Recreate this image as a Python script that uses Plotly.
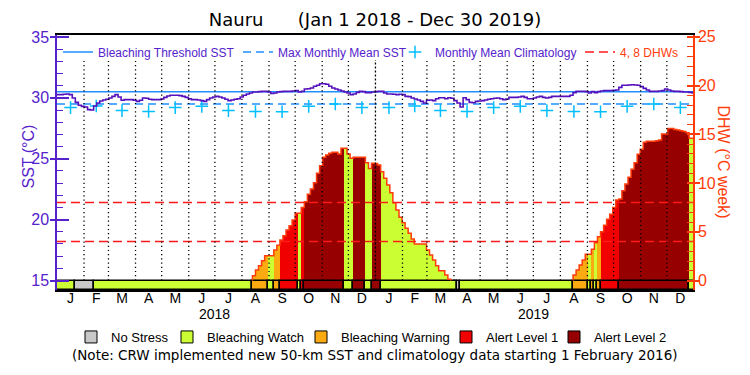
import pandas as pd
import plotly.graph_objects as go

# ---------------- data ----------------
title_text = "Nauru\u00a0\u00a0\u00a0\u00a0\u00a0\u00a0(Jan 1 2018 - Dec 30 2019)"
start_date = "2018-01-01"
end_date = "2019-12-31"
step_hours = 84  # twice-weekly composites

# twice-weekly SST (deg C), starting Jan 1 2018
sst = [30.26, 30.26, 30.29, 30.32, 30.26, 29.99, 29.63, 29.39, 29.30, 29.25,
       29.03, 29.00, 29.33, 29.58, 29.74, 29.82, 29.88, 29.99, 30.12, 30.26,
       30.07, 29.80, 29.85, 29.85, 29.85, 29.80, 29.71, 29.80, 29.99, 29.96,
       29.88, 29.85, 29.85, 29.85, 29.91, 30.04, 30.15, 30.21, 30.21, 30.21,
       30.18, 30.12, 30.04, 29.93, 29.85, 29.85, 29.82, 29.77, 29.71, 29.85,
       29.99, 30.07, 30.12, 30.07, 29.99, 29.88, 29.77, 29.82, 29.88, 29.93,
       30.07, 30.21, 30.32, 30.40, 30.48, 30.48, 30.51, 30.53, 30.53, 30.48,
       30.37, 30.40, 30.48, 30.51, 30.53, 30.53, 30.53, 30.56, 30.59, 30.48,
       30.53, 30.73, 30.75, 30.81, 30.95, 31.03, 31.16, 31.16, 31.11, 30.95,
       30.81, 30.73, 30.64, 30.56, 30.48, 30.40, 30.26, 30.32, 30.45, 30.53,
       30.51, 30.43, 30.43, 30.48, 30.51, 30.53, 30.53, 30.40, 30.32, 30.32,
       30.29, 30.26, 30.29, 30.26, 30.12, 30.10, 29.99, 29.91, 29.82, 29.71,
       29.58, 29.80, 29.82, 29.77, 29.93, 30.01, 30.01, 29.93, 30.01, 29.96,
       29.77, 29.58, 29.25, 30.01, 29.85, 29.63, 29.60, 29.71, 29.74, 29.77,
       29.82, 29.88, 29.93, 29.96, 29.99, 29.93, 29.85, 29.91, 30.04, 30.04,
       30.04, 30.07, 30.12, 30.04, 29.93, 29.93, 29.99, 30.07, 30.12, 30.04,
       29.99, 30.04, 30.12, 30.12, 30.12, 30.12, 30.12, 30.12, 30.21, 30.43,
       30.53, 30.53, 30.53, 30.51, 30.40, 30.51, 30.43, 30.51, 30.56, 30.59,
       30.59, 30.59, 30.62, 30.64, 30.86, 31.03, 31.03, 31.05, 31.08, 31.05,
       31.03, 30.92, 30.78, 30.64, 30.53, 30.53, 30.53, 30.56, 30.59, 30.73,
       30.64, 30.56, 30.53, 30.53, 30.51, 30.48, 30.48, 30.45, 30.34]

# monthly mean climatology (Jan..Dec)
month_letters = ["J", "F", "M", "A", "M", "J", "J", "A", "S", "O", "N", "D"]
clim_sst = [29.20, 29.33, 28.95, 28.88, 29.20, 29.30, 28.95, 28.88, 28.86, 29.30, 29.50, 29.20]
years = [2018, 2019]

# degree heating weeks during the two events
dhw_2018_start = "2018-08-13 00:00"
dhw_2018 = [0.50, 1.08, 1.52, 2.03, 2.55, 2.55, 2.55, 3.13, 3.61, 4.15,
            4.60, 5.18, 5.62, 6.20, 6.89, 6.89, 7.50, 8.08, 8.84, 9.38,
            10.03, 11.00, 11.78, 12.63, 12.87, 13.04, 13.15, 13.15, 12.97, 13.56,
            13.56, 12.97, 12.53, 12.63, 12.63, 12.63, 12.63, 12.08, 11.50, 12.02,
            12.00, 11.85, 11.16, 10.48, 9.79, 9.00, 7.98, 7.23, 6.48, 5.93,
            5.35, 4.84, 4.26, 3.74, 3.74, 3.74, 3.74, 3.13, 2.62, 2.10,
            1.52, 1.00, 1.00, 0.56, 0.12]
dhw_2019_start = "2019-08-15 12:00"
dhw_2019 = [0.56, 1.08, 1.59, 2.10, 2.68, 2.68, 3.20, 3.88, 4.50, 5.01,
            5.66, 6.27, 6.79, 7.50, 8.26, 8.36, 9.21, 9.90, 10.58, 11.40,
            12.09, 12.94, 13.45, 14.17, 14.27, 14.27, 14.27, 14.34, 14.41, 15.03,
            15.03, 15.60, 15.60, 15.50, 15.44, 15.37, 15.27, 15.16, 14.58, 14.58]
dhw_levels = [4, 8]

# stress level (0..4) as runs of twice-weekly periods
stress_names = ["No Stress", "Bleaching Watch", "Bleaching Warning", "Alert Level 1", "Alert Level 2"]
stress_colors = ["#C8C8C8", "#CCFF33", "#FBAA12", "#F00000", "#960000"]
stress_run_levels = [1, 0, 1, 2, 1, 2, 3, 1, 3, 4, 1, 4, 1, 4, 1, 0, 1, 2, 1, 2, 1, 2, 3, 4, 1]
stress_run_lengths = [6, 6, 52, 5, 2, 2, 6, 1, 1, 13, 3, 4, 2, 3, 25, 1, 37, 5, 1, 1, 1, 1, 6, 23, 2]

note_text = "(Note: CRW implemented new 50-km SST and climatology data starting 1 February 2016)"

# ---------------- styling ----------------
FONT = "Liberation Sans"
WIDE_FONT = "DejaVu Sans"
PURPLE = "#5522CC"
SST_LINE = "#5511BB"
ORANGE = "#FF3C0A"
BLUE = "#1E90FF"
CYAN = "#00BFFF"
RED = "#FF1A1A"
SST_RANGE = [14.22, 35.16]
DHW_RANGE = [-0.974, 25.18]
ML, MR, MT, MB = 57, 57, 35, 85
W, H = 750, 375
PW = W - ML - MR
PH = H - MT - MB


def px_x(p):  # pixel -> paper x
    return (p - ML) / PW


def px_y(p):  # pixel -> paper y
    return (H - MB - p) / PH


# ---------------- derived ----------------
n = len(sst)
t0 = pd.Timestamp(start_date)
step = pd.Timedelta(hours=step_hours)
width_ms = step / pd.Timedelta(milliseconds=1)


def ts(t):
    return pd.Timestamp(t).strftime("%Y-%m-%d %H:%M:%S")


times = [t0 + i * step for i in range(n)]
centers = [t + step / 2 for t in times]

dhw = [0.0] * n
events = [(dhw_2018_start, dhw_2018), (dhw_2019_start, dhw_2019)]
for start, vals in events:
    i0 = int(round((pd.Timestamp(start) - t0) / step))
    for k, v in enumerate(vals):
        if i0 + k < n:
            dhw[i0 + k] = v

levels = []
for lv, cnt in zip(stress_run_levels, stress_run_lengths):
    levels += [lv] * cnt

mmm = max(clim_sst)
threshold = mmm + 1.0

fig = go.Figure()

# SST reference lines
fig.add_trace(go.Scatter(x=[start_date, end_date], y=[threshold, threshold], mode="lines",
                         line=dict(color=BLUE, width=1.5), name="Bleaching Threshold SST",
                         legend="legend", yaxis="y"))
fig.add_trace(go.Scatter(x=[start_date, end_date], y=[mmm, mmm], mode="lines",
                         line=dict(color=BLUE, width=1.5, dash="8px,5px"), name="Max Monthly Mean SST",
                         legend="legend3", yaxis="y"))
clim_x, clim_y = [], []
for yr in years:
    for m in range(12):
        ms = pd.Timestamp(year=yr, month=m + 1, day=1)
        clim_x.append(ts(ms + pd.Timedelta(days=ms.days_in_month / 2)))
        clim_y.append(clim_sst[m])
fig.add_trace(go.Scatter(x=clim_x, y=clim_y, mode="markers",
                         marker=dict(symbol="cross-thin", size=9, line=dict(color=CYAN, width=1.5)),
                         name="Monthly Mean Climatology", legend="legend4", yaxis="y"))
fig.add_trace(go.Scatter(x=[ts(t) for t in times], y=sst, mode="lines", line_shape="hv",
                         line=dict(color=SST_LINE, width=1.6), showlegend=False, yaxis="y"))

# DHW bars coloured by stress level
fig.add_trace(go.Bar(x=[ts(c) for c in centers], y=dhw, width=width_ms,
                     marker=dict(color=[stress_colors[l] for l in levels], line_width=0),
                     showlegend=False, yaxis="y2"))
# DHW outlines
for start, vals in events:
    s = pd.Timestamp(start)
    xs = [ts(s)] + [ts(s + k * step) for k in range(len(vals) + 1)]
    ys = [0] + list(vals) + [0]
    fig.add_trace(go.Scatter(x=xs, y=ys, mode="lines", line_shape="hv",
                             line=dict(color=ORANGE, width=1.5), showlegend=False, yaxis="y2"))

# DHW 4 and 8 lines
lx, ly = [], []
for lv in dhw_levels:
    lx += [start_date, end_date, None]
    ly += [lv, lv, None]
fig.add_trace(go.Scatter(x=lx, y=ly, mode="lines", line=dict(color=RED, width=1.5, dash="9px,5px"),
                         name='<span style="color:%s">4, 8 DHWs</span>' % ORANGE, legend="legend5",
                         yaxis="y2"))

# stress bar along the bottom
sb_x, sb_w, sb_c = [], [], []
idx = 0
for lv, cnt in zip(stress_run_levels, stress_run_lengths):
    sb_x.append(ts(t0 + step * (idx + cnt / 2)))
    sb_w.append(width_ms * cnt)
    sb_c.append(stress_colors[lv])
    idx += cnt
fig.add_trace(go.Bar(x=sb_x, y=[0 - DHW_RANGE[0]] * len(sb_x), base=DHW_RANGE[0], width=sb_w,
                     marker=dict(color=sb_c, line=dict(color="black", width=1.5)),
                     showlegend=False, yaxis="y2"))

# legend entries for stress levels (one legend each, placed along the bottom)
stress_legend_px = [71, 167, 301, 446, 554]
for k, (name, col) in enumerate(zip(stress_names, stress_colors)):
    fig.add_trace(go.Bar(x=[None], y=[None], name=name, legend="legend%d" % (6 + k),
                         marker=dict(color=col, line=dict(color="black", width=1))))

# invisible traces so the outer-tick axes draw
fig.add_trace(go.Scatter(x=[None], y=[None], yaxis="y3", showlegend=False))
fig.add_trace(go.Scatter(x=[None], y=[None], yaxis="y4", showlegend=False))

# month boundary dotted lines
month_starts = pd.date_range("2018-02-01", "2019-12-01", freq="MS")
for m in month_starts:
    dash = "2px,2px" if (m.month == 1) else "1.2px,3px"
    fig.add_shape(type="line", xref="x", yref="y", x0=ts(m), x1=ts(m), y0=15, y1=33.1,
                  line=dict(color="black", width=1.3, dash=dash), layer="above")

# month tick positions
tick_vals, tick_text = [], []
for yr in years:
    for m in range(12):
        ms = pd.Timestamp(year=yr, month=m + 1, day=1)
        tick_vals.append(ts(ms + pd.Timedelta(days=ms.days_in_month / 2)))
        tick_text.append(month_letters[m])

for yr in years:
    fig.add_annotation(x=ts(pd.Timestamp(year=yr, month=7, day=1)), xref="x", y=px_y(314), yref="paper",
                       text=str(yr), showarrow=False, font=dict(family=FONT, size=14, color="black"),
                       yanchor="middle")

fig.add_annotation(x=0.5, xref="paper", y=px_y(355), yref="paper", text=note_text, showarrow=False,
                   font=dict(family=WIDE_FONT, size=13.5, color="black"), yanchor="middle")
fig.add_annotation(x=px_x(17), xref="paper", y=px_y(157), yref="paper", text="SST (°C)", textangle=-90,
                   showarrow=False, font=dict(family=FONT, size=16, color=PURPLE))
fig.add_annotation(x=px_x(734), xref="paper", y=px_y(162), yref="paper", text="DHW (°C week)", textangle=90,
                   showarrow=False, font=dict(family=FONT, size=16, color=ORANGE))


def top_legend(px):
    return dict(orientation="h", x=px_x(px), xanchor="left", y=px_y(52), yanchor="middle",
                bgcolor="rgba(0,0,0,0)", borderwidth=0, font=dict(family=FONT, size=12, color=PURPLE),
                itemwidth=30)


def bottom_legend(px):
    return dict(orientation="h", x=px_x(px), xanchor="left", y=px_y(337), yanchor="middle",
                bgcolor="rgba(0,0,0,0)", borderwidth=0, font=dict(family=FONT, size=13, color="black"),
                itemwidth=30)


legends = {"legend": top_legend(58), "legend3": top_legend(238), "legend4": top_legend(395),
           "legend5": top_legend(580)}
for k, p in enumerate(stress_legend_px):
    legends["legend%d" % (6 + k)] = bottom_legend(p)

fig.update_layout(
    template="none",
    width=W, height=H,
    margin=dict(l=ML, r=MR, t=MT, b=MB, autoexpand=False),
    paper_bgcolor="white", plot_bgcolor="white",
    font=dict(family=FONT),
    barmode="overlay", bargap=0,
    hovermode=False,
    title=dict(text=title_text, x=0.5, xanchor="center", y=1 - 20 / H, yanchor="middle",
               font=dict(family=WIDE_FONT, size=18, color="black")),
    xaxis=dict(type="date", range=[start_date, end_date], showgrid=False, zeroline=False, automargin=False,
               showline=True, linecolor="black", linewidth=1.5, mirror=True, ticks="", ticklen=0,
               ticklabelstandoff=-6,
               tickmode="array", tickvals=tick_vals, ticktext=tick_text,
               tickfont=dict(family=FONT, size=14, color="black")),
    yaxis=dict(range=SST_RANGE, showgrid=False, zeroline=False, showline=True, linecolor=PURPLE,
               automargin=False,
               linewidth=1.5, ticks="inside", ticklen=12, tickcolor=PURPLE, tickwidth=1.5,
               tickmode="linear", tick0=15, dtick=5, ticklabelstandoff=3,
               tickfont=dict(family=FONT, size=16, color=PURPLE),
               minor=dict(ticks="inside", ticklen=6, tickcolor=PURPLE, tickwidth=1.2, dtick=1, tick0=15)),
    yaxis3=dict(range=SST_RANGE, overlaying="y", side="left", anchor="x", showgrid=False, zeroline=False,
                automargin=False,
                showline=False, ticks="outside", ticklen=6, tickcolor=PURPLE, tickwidth=1.5,
                tickmode="linear", tick0=15, dtick=5, showticklabels=False),
    yaxis2=dict(range=DHW_RANGE, overlaying="y", side="right", anchor="x", showgrid=False, zeroline=False,
                automargin=False,
                showline=True, linecolor=ORANGE, linewidth=1.5, ticks="inside", ticklen=6,
                tickcolor=ORANGE, tickwidth=1.5, tickmode="linear", tick0=0, dtick=5,
                tickfont=dict(family=FONT, size=16, color=ORANGE),
                minor=dict(ticks="inside", ticklen=6, tickcolor=ORANGE, tickwidth=1.2, dtick=1, tick0=0)),
    yaxis4=dict(range=DHW_RANGE, overlaying="y", side="right", anchor="x", showgrid=False, zeroline=False,
                automargin=False,
                showline=False, ticks="outside", ticklen=6, tickcolor=ORANGE, tickwidth=1.5,
                tickmode="linear", tick0=0, dtick=5, showticklabels=False),
    **legends,
)

fig.write_html("out.html", config={"displayModeBar": False},
               post_script="document.body.style.margin='0';")
